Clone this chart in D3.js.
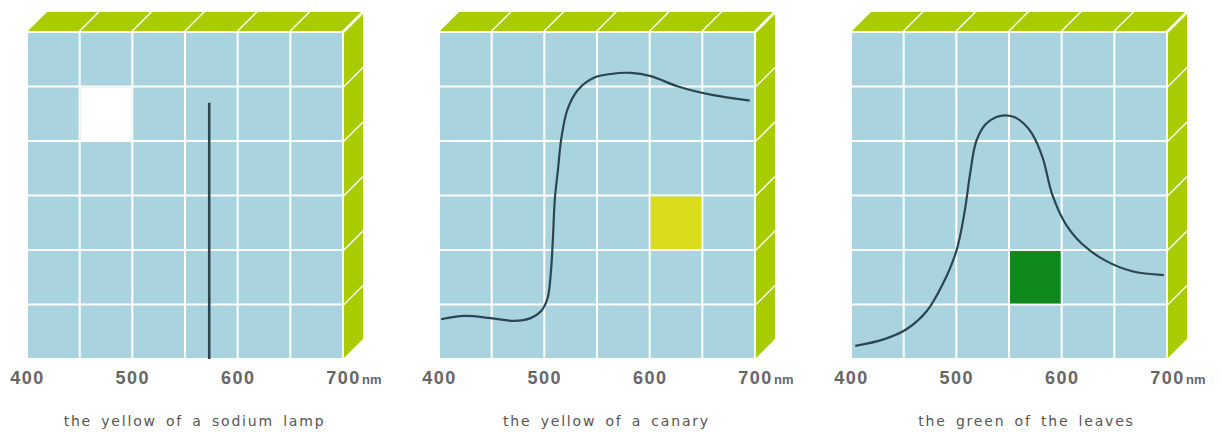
<!DOCTYPE html>
<html>
<head>
<meta charset="utf-8">
<script src="https://cdn.jsdelivr.net/npm/d3@7"></script>
<style>
  body { margin: 0; background: #fff; }
</style>
</head>
<body>
<div id="chart"></div>
<script>
// Data: wavelength (nm) against reflectance (arbitrary units)
const captions = ["the yellow of a sodium lamp", "the yellow of a canary", "the green of the leaves"];
const tickLabels = [400, 500, 600, 700];

const sodiumCurve = [[573, 0], [573, 47]];
const canaryCurve = [
  [402, 7.3], [424, 7.9], [449, 7.5], [471, 7.0], [487, 7.5], [497, 8.8], [503, 11.1],
  [506, 15.4], [508, 21.5], [510, 29.4], [513, 34.8], [516, 40.3], [522, 45.8],
  [532, 49.4], [547, 51.6], [563, 52.3], [582, 52.5], [601, 51.9], [627, 50.0],
  [658, 48.5], [695, 47.4]
];
const leavesCurve = [
  [404, 2.4], [431, 3.6], [453, 5.5], [472, 8.8], [487, 13.7], [500, 19.8], [508, 27.2],
  [513, 33.9], [519, 40.0], [528, 43.1], [538, 44.4], [547, 44.7], [556, 44.3], [564, 43.2],
  [572, 41.3], [582, 36.9], [591, 30.2], [604, 24.7], [620, 21.0], [642, 18.0], [667, 16.1],
  [697, 15.4]
];
const curves = [sodiumCurve, canaryCurve, leavesCurve];

// colour swatch in each panel: lower-left corner of its cell (nm, value)
const swatchNm = [450, 600, 550];
const swatchValue = [40, 20, 10];
const swatchColors = ["#ffffff", "#d8dc1c", "#0f8a1a"];

// Layout
const WIDTH = 1221, HEIGHT = 433;
const PANEL_W = 316, PANEL_H = 327, TOP = 32;
const DEPTH = 19;
const GAP = 1;

const BLUE = "#a9d4df";
const SIDE = "#a9cc00";
const FONT = "'Liberation Sans', Arial, sans-serif";

const svg = d3.select("#chart").append("svg")
    .attr("width", WIDTH)
    .attr("height", HEIGHT);

const x = d3.scaleLinear().domain([400, 700]).range([0, PANEL_W]);
const y = d3.scaleLinear().domain([0, 60]).range([PANEL_H, 0]);

const colTicks = x.ticks(6);   // 400..700 every 50
const rowTicks = y.ticks(6);   // 0..60 every 10
const cols = d3.pairs(colTicks);
const rows = d3.pairs(rowTicks);

const line = d3.line()
    .x(d => x(d[0]))
    .y(d => y(d[1]))
    .curve(d3.curveCatmullRom.alpha(0.5));

captions.forEach((caption, i) => {
  const left = 27 + i * 412;
  const g = svg.append("g").attr("transform", `translate(${left},${TOP})`);

  // front face cells
  const cells = d3.cross(cols, rows);
  g.selectAll("rect.cell").data(cells).join("rect")
      .attr("class", "cell")
      .attr("x", d => x(d[0][0]) + GAP)
      .attr("y", d => y(d[1][1]) + GAP)
      .attr("width", d => x(d[0][1]) - x(d[0][0]) - 2 * GAP)
      .attr("height", d => y(d[1][0]) - y(d[1][1]) - 2 * GAP)
      .attr("fill", BLUE);

  // top face
  g.selectAll("path.top").data(cols).join("path")
      .attr("class", "top")
      .attr("fill", SIDE)
      .attr("d", d => {
        const a = x(d[0]) + GAP, b = x(d[1]) - GAP, t = -GAP;
        return `M${a},${t}L${b},${t}L${b + DEPTH},${t - DEPTH}L${a + DEPTH},${t - DEPTH}Z`;
      });

  // right face
  g.selectAll("path.side").data(rows).join("path")
      .attr("class", "side")
      .attr("fill", SIDE)
      .attr("d", d => {
        const r = PANEL_W + GAP, a = y(d[1]) + GAP, b = y(d[0]) - GAP;
        return `M${r},${a}L${r + DEPTH},${a - DEPTH}L${r + DEPTH},${b - DEPTH}L${r},${b}Z`;
      });

  // colour swatch
  g.append("rect")
      .attr("x", x(swatchNm[i]) + GAP)
      .attr("y", y(swatchValue[i] + 10) + GAP)
      .attr("width", x(swatchNm[i] + 50) - x(swatchNm[i]) - 2 * GAP)
      .attr("height", y(swatchValue[i]) - y(swatchValue[i] + 10) - 2 * GAP)
      .attr("fill", swatchColors[i]);

  // reflectance curve
  g.append("path")
      .datum(curves[i])
      .attr("fill", "none")
      .attr("stroke", "#2b4650")
      .attr("stroke-width", i === 0 ? 2.6 : 2.2)
      .attr("d", line);

  // wavelength axis
  const axis = g.append("g")
      .attr("transform", `translate(0,${PANEL_H})`)
      .call(d3.axisBottom(x).tickValues(tickLabels).tickSize(0).tickPadding(12).tickFormat(d3.format("d")));
  axis.select(".domain").remove();
  axis.attr("font-family", FONT)
      .attr("font-size", 18)
      .attr("font-weight", "bold");
  axis.selectAll("text")
      .attr("fill", "#666")
      .attr("letter-spacing", 1.5);
  axis.selectAll(".tick").filter(d => d === 700)
    .append("text")
      .attr("x", 18.5)
      .attr("y", 12 + 0.71 * 18)
      .attr("text-anchor", "start")
      .attr("font-size", 13)
      .attr("fill", "#666")
      .text("nm");

  // caption
  svg.append("text")
      .attr("x", left + (PANEL_W + DEPTH) / 2 + (i === 2 ? 8 : 0))
      .attr("y", 426)
      .attr("text-anchor", "middle")
      .attr("font-family", "'DejaVu Sans', sans-serif")
      .attr("font-size", 14)
      .attr("letter-spacing", 1.8)
      .attr("word-spacing", 3)
      .attr("fill", "#555")
      .text(caption);
});
</script>
</body>
</html>
